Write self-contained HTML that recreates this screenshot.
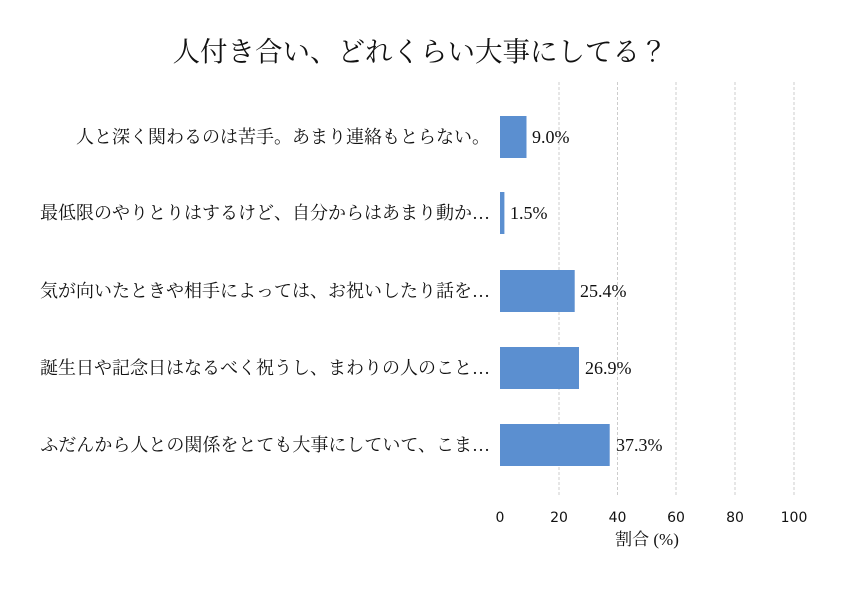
<!DOCTYPE html>
<html><head><meta charset="utf-8"><style>
body{margin:0;background:#fff}
svg text{font-family:"Liberation Serif","Noto Serif CJK JP","Noto Serif CJK SC",serif;fill:#111}
</style></head><body>
<svg width="846" height="588" xmlns="http://www.w3.org/2000/svg">
<rect width="846" height="588" fill="#fff"/>
<text x="420" y="61" font-size="27.5" text-anchor="middle">人付き合い、どれくらい大事にしてる？</text>
<g stroke="#ccc" stroke-width="1" stroke-dasharray="3,2">
<line x1="559" y1="82" x2="559" y2="496"/>
<line x1="617.5" y1="82" x2="617.5" y2="496"/>
<line x1="676" y1="82" x2="676" y2="496"/>
<line x1="735" y1="82" x2="735" y2="496"/>
<line x1="794" y1="82" x2="794" y2="496"/>
</g>
<g fill="#5b8fd0">
<rect x="500" y="116" width="26.5" height="42"/>
<rect x="500" y="192" width="4.4" height="42"/>
<rect x="500" y="270" width="74.7" height="42"/>
<rect x="500" y="347" width="79" height="42"/>
<rect x="500" y="424" width="109.7" height="42"/>
</g>
<g font-size="18">
<text x="532" y="143">9.0%</text>
<text x="510" y="219">1.5%</text>
<text x="580" y="297">25.4%</text>
<text x="585" y="374">26.9%</text>
<text x="616" y="451">37.3%</text>
</g>
<g font-size="18" text-anchor="end">
<text x="490" y="143">人と深く関わるのは苦手。あまり連絡もとらない。</text>
<text x="490" y="219">最低限のやりとりはするけど、自分からはあまり動か…</text>
<text x="490" y="297">気が向いたときや相手によっては、お祝いしたり話を…</text>
<text x="490" y="374">誕生日や記念日はなるべく祝うし、まわりの人のこと…</text>
<text x="490" y="451">ふだんから人との関係をとても大事にしていて、こま…</text>
</g>
<g font-size="14" text-anchor="middle">
<text x="500" y="522" style="font-family:'DejaVu Sans',sans-serif">0</text>
<text x="559" y="522" style="font-family:'DejaVu Sans',sans-serif">20</text>
<text x="617.5" y="522" style="font-family:'DejaVu Sans',sans-serif">40</text>
<text x="676" y="522" style="font-family:'DejaVu Sans',sans-serif">60</text>
<text x="735" y="522" style="font-family:'DejaVu Sans',sans-serif">80</text>
<text x="794" y="522" style="font-family:'DejaVu Sans',sans-serif">100</text>
</g>
<text x="647" y="545" font-size="17" text-anchor="middle">割合 (%)</text>
</svg>
</body></html>
